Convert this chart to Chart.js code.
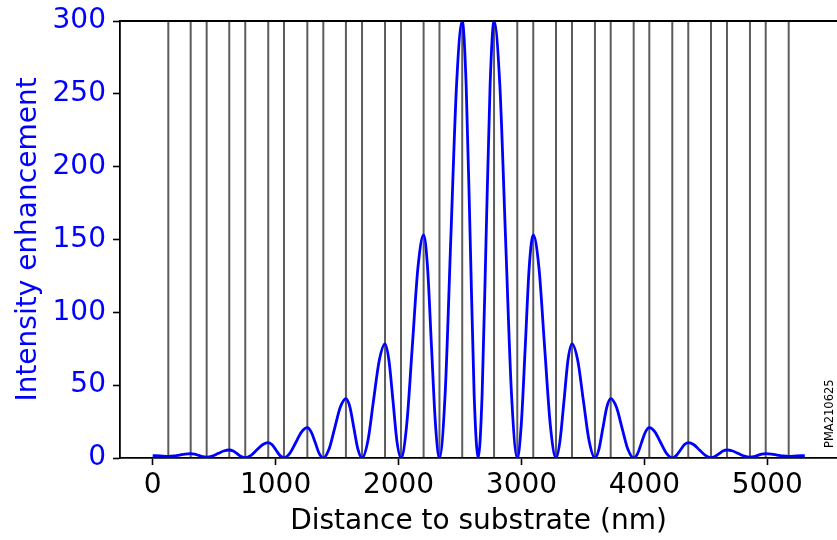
<!DOCTYPE html>
<html>
<head>
<meta charset="utf-8">
<script src="https://cdn.jsdelivr.net/npm/chart.js@4.4.1/dist/chart.umd.min.js"></script>
<style>
  html, body { margin: 0; padding: 0; background: #fff; }
  #wrap { width: 837px; height: 540px; }
</style>
</head>
<body>
<div id="wrap"><canvas id="chart" width="837" height="540"></canvas></div>
<script>
// distance (nm) and intensity
const curveX = [
  0, 60, 127, 172, 218, 264, 309, 341, 374, 406, 439, 485, 531, 577, 623, 655, 688, 720, 753,
  800, 846, 893, 940, 972, 1004, 1036, 1068, 1115, 1163, 1210, 1258, 1290, 1323, 1355, 1388,
  1434, 1480, 1526, 1572, 1605, 1637, 1670, 1703, 1750, 1796, 1843, 1890, 1922, 1955, 1987, 2020,
  2066, 2112, 2158, 2204, 2236, 2268, 2301, 2333, 2379, 2425, 2472, 2518, 2550, 2583, 2615, 2648,
  2680, 2712, 2745, 2777, 2824, 2871, 2919, 2966, 2998, 3031, 3063, 3096, 3142, 3188, 3235, 3281,
  3313, 3346, 3378, 3411, 3458, 3504, 3551, 3598, 3630, 3662, 3694, 3726, 3773, 3819, 3866, 3913,
  3945, 3976, 4008, 4040, 4087, 4133, 4180, 4227, 4259, 4292, 4324, 4357, 4403, 4449, 4496, 4542,
  4574, 4607, 4639, 4672, 4719, 4765, 4812, 4859, 4891, 4923, 4955, 4987, 5034, 5080, 5127, 5174,
  5240, 5305
];
const curveY = [
  1.6, 1.4, 1.1, 1.38, 2.05, 2.72, 3.0, 2.65, 1.8, 0.95, 0.6, 1.32, 3.05, 4.78, 5.5, 4.74, 2.9, 1.06, 0.3,
  1.8, 5.45, 9.1, 10.6, 9.07, 5.35, 1.63, 0.1, 3.12, 10.45, 17.78, 20.8, 17.76, 10.4, 3.04, 0,
  5.94, 20.35, 34.76, 40.7, 34.76, 20.35, 5.94, 0, 11.45, 39.2, 66.95, 78.4, 66.95, 39.2, 11.45, 0,
  22.4, 76.6, 130.8, 153.2, 130.8, 76.6, 22.4, 0, 43.8, 150, 256.2, 300, 256.2, 150, 43.8, 0,
  43.8, 150, 256.2, 300, 256.2, 150, 43.8, 0, 22.4, 76.6, 130.8, 153.2, 130.8, 76.6, 22.4, 0,
  11.45, 39.2, 66.95, 78.4, 66.95, 39.2, 11.45, 0, 5.94, 20.35, 34.76, 40.7, 34.76, 20.35, 5.94, 0,
  3.04, 10.4, 17.76, 20.8, 17.78, 10.45, 3.12, 0.1, 1.63, 5.35, 9.07, 10.6, 9.1, 5.45, 1.8, 0.3,
  1.06, 2.9, 4.74, 5.5, 4.78, 3.05, 1.32, 0.6, 0.95, 1.8, 2.65, 3.0, 2.72, 2.05, 1.38, 1.1,
  1.4, 1.6
];
// layer boundaries (nm)
const layerEdges = [
  127, 309, 439, 623, 753, 940, 1068, 1258, 1388, 1572, 1703, 1890, 2020, 2204, 2333, 2518,
  2777, 2966, 3096, 3281, 3411, 3598, 3726, 3913, 4040, 4227, 4357, 4542, 4672, 4859, 4987, 5174
];
const xTicks = [0, 1000, 2000, 3000, 4000, 5000];
const yTicks = [0, 50, 100, 150, 200, 250, 300];
const stamp = "PMA210625";

const FONT = "'DejaVu Sans', sans-serif";
const BLUE = "#0000ff";

const points = curveX.map((x, i) => ({ x, y: curveY[i] }));

const layerLines = {
  id: "layerLines",
  beforeDatasetsDraw(chart) {
    const { ctx, chartArea, scales } = chart;
    ctx.save();
    ctx.beginPath();
    ctx.rect(chartArea.left, chartArea.top, chartArea.width, chartArea.height);
    ctx.clip();
    ctx.strokeStyle = "rgba(0,0,0,0.64)";
    ctx.lineWidth = 2;
    for (const edge of layerEdges) {
      const px = scales.x.getPixelForValue(edge);
      ctx.beginPath();
      ctx.moveTo(px, chartArea.top);
      ctx.lineTo(px, chartArea.bottom);
      ctx.stroke();
    }
    ctx.restore();
  },
  afterDraw(chart) {
    const { ctx, chartArea } = chart;
    ctx.save();
    // top spine
    ctx.strokeStyle = "#000";
    ctx.lineWidth = 1.8;
    ctx.beginPath();
    ctx.moveTo(chartArea.left - 0.9, chartArea.top);
    ctx.lineTo(chartArea.right, chartArea.top);
    ctx.stroke();
    // stamp
    ctx.translate(832.5, 448);
    ctx.rotate(-Math.PI / 2);
    ctx.fillStyle = "#000";
    ctx.font = "11.5px " + FONT;
    ctx.textAlign = "left";
    ctx.textBaseline = "alphabetic";
    ctx.fillText(stamp, 0, 0);
    ctx.restore();
  }
};

function noPad(s) {
  s.paddingTop = 0;
  s.paddingBottom = 0;
  s.paddingLeft = 0;
  s.paddingRight = 0;
}

new Chart(document.getElementById("chart"), {
  type: "line",
  data: {
    datasets: [{
      data: points,
      borderColor: BLUE,
      borderWidth: 2.8,
      pointRadius: 0,
      cubicInterpolationMode: "monotone",
      fill: false
    }]
  },
  options: {
    responsive: false,
    animation: false,
    devicePixelRatio: 1,
    layout: { padding: { top: 21, right: 0, bottom: 0, left: 0 } },
    plugins: {
      legend: { display: false },
      tooltip: { enabled: false }
    },
    scales: {
      x: {
        type: "linear",
        min: -266,
        max: 5567,
        afterBuildTicks: s => { s.ticks = xTicks.map(v => ({ value: v })); },
        afterFit: s => { s.height = 82; noPad(s); },
        grid: { drawOnChartArea: false, drawTicks: true, tickLength: 7, tickWidth: 1.6, tickColor: "#000" },
        border: { display: true, color: "#000", width: 1.8 },
        ticks: {
          color: "#000",
          font: { family: FONT, size: 28 },
          padding: 4,
          maxRotation: 0,
          autoSkip: false,
          callback: v => String(v)
        },
        title: {
          display: true,
          text: "Distance to substrate (nm)",
          color: "#000",
          font: { family: FONT, size: 28 },
          padding: { top: 0, bottom: 1 }
        }
      },
      y: {
        type: "linear",
        min: 0,
        max: 300,
        afterBuildTicks: s => { s.ticks = yTicks.map(v => ({ value: v })); },
        afterFit: s => { s.width = 120; noPad(s); },
        grid: { drawOnChartArea: false, drawTicks: true, tickLength: 7, tickWidth: 1.6, tickColor: "#000" },
        border: { display: true, color: "#000", width: 1.8 },
        ticks: {
          color: BLUE,
          font: { family: FONT, size: 28 },
          padding: 7,
          callback: v => String(v)
        },
        title: {
          display: true,
          text: "Intensity enhancement",
          color: BLUE,
          font: { family: FONT, size: 28 },
          padding: { top: 12, bottom: 0 }
        }
      }
    }
  },
  plugins: [layerLines]
});
</script>
</body>
</html>
